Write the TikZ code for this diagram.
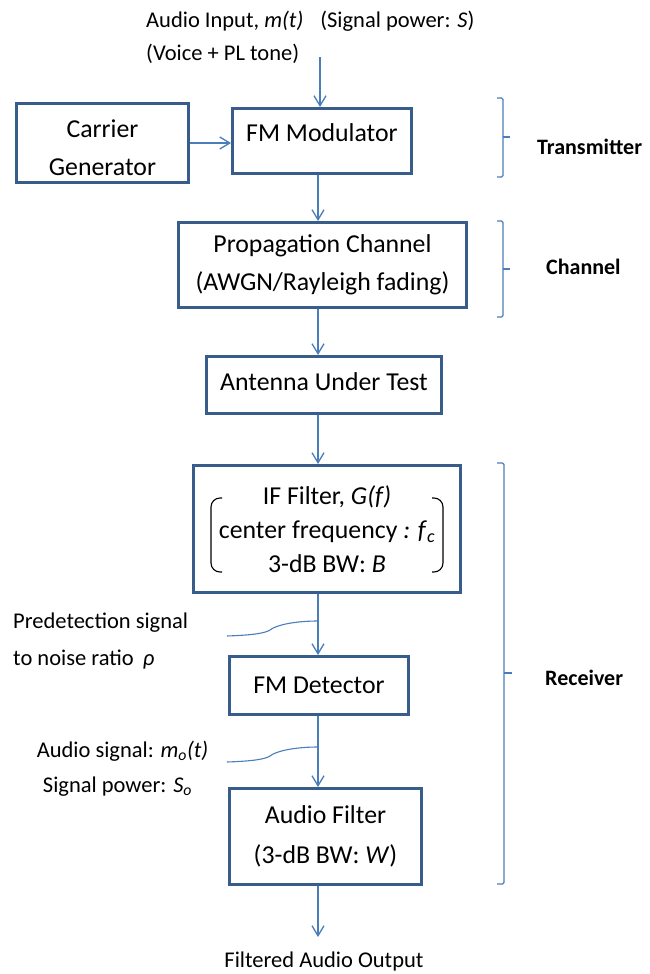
\documentclass[tikz,border=0pt]{standalone}
\usepackage{fontspec}
\setmainfont{Carlito}
\usetikzlibrary{arrows.meta}
\definecolor{boxblue}{RGB}{56,93,138}
\definecolor{linkblue}{RGB}{74,126,187}
\begin{document}
\begin{tikzpicture}[x=1pt,y=-1pt,
  blockbox/.style={draw=boxblue, line width=3pt, inner sep=0pt, align=center, font=\fontsize{25.8}{38}\selectfont},
  arr/.style={draw=linkblue, line width=1.3pt, -{Straight Barb[length=10pt,width=12pt]}},
  brack/.style={draw=linkblue, line width=1.3pt, rounded corners=1.5pt},
  lbl/.style={font=\fontsize{22.5}{27}\selectfont, inner sep=0pt},
  side/.style={font=\fontsize{22}{26}\selectfont\bfseries, inner sep=0pt},
  paren/.style={draw=black, line width=1.1pt, rounded corners=9pt},
  callout/.style={draw=linkblue, line width=1.1pt}]
\useasboundingbox (0,0) rectangle (649,974);

% blocks
\node[blockbox, minimum width=172pt, minimum height=79pt, text height=65pt] (carrier) at (102.5,143) {Carrier\\Generator};
\node[blockbox, minimum width=179pt, minimum height=65pt, text depth=16pt] (mod) at (322,141) {FM Modulator};
\node[blockbox, minimum width=288pt, minimum height=85pt] (chan) at (322.5,265) {Propagation Channel\\(AWGN/Rayleigh fading)};
\node[blockbox, minimum width=235pt, minimum height=57pt, text depth=6pt] (ant) at (324,385) {Antenna Under Test};
\node[blockbox, minimum width=267pt, minimum height=127pt, font=\fontsize{25.8}{34}\selectfont] (iff) at (327,529) {IF Filter, \textit{G(f)}\\center frequency \textit{: f}\textsubscript{\textit{c}}\\3-dB BW: \textit{B}};
\node[blockbox, minimum width=179pt, minimum height=58pt] (det) at (319,685.5) {FM Detector};
\node[blockbox, minimum width=192pt, minimum height=96pt, font=\fontsize{25.8}{40}\selectfont] (afil) at (325.5,836.5) {Audio Filter\\(3-dB BW: \textit{W})};

% parentheses inside IF filter
\draw[paren] (222,498) -- (211,498) -- (211,572) -- (222,572);
\draw[paren] (432,498) -- (443,498) -- (443,572) -- (432,572);

% connectors
\coordinate (sp) at (318,0);
\coordinate (inp) at (320,57);
\coordinate (outp) at (318,937);
\draw[arr] (inp) -- (inp |- mod.north);
\draw[arr] (carrier.east) -- (carrier.east -| mod.west);
\draw[arr] (mod.south -| sp) -- (chan.north -| sp);
\draw[arr] (chan.south -| sp) -- (ant.north -| sp);
\draw[arr] (ant.south -| sp) -- (iff.north -| sp);
\draw[arr] (iff.south -| sp) -- (det.north -| sp);
\draw[arr] (det.south -| sp) -- (afil.north -| sp);
\draw[arr] (afil.south -| sp) -- (outp);

% callouts
\coordinate (c1a) at (227,636);
\coordinate (c1b) at (318,621);
\coordinate (c2a) at (227,762);
\coordinate (c2b) at (318,747);
\draw[callout] (c1a) .. controls (255,635) and (265,633) .. (270,630) .. controls (276,625) and (295,621) .. (c1b);
\draw[callout] (c2a) .. controls (255,761) and (265,759) .. (270,756) .. controls (276,751) and (295,747) .. (c2b);

% brackets
\draw[brack] (497,98) -- (503,98) -- (503,177) -- (497,177);
\draw[brack] (503,137) -- (510,137);
\draw[brack] (497,221) -- (503,221) -- (503,317) -- (497,317);
\draw[brack] (503,269) -- (510,269);
\draw[brack] (497,463) -- (504,463) -- (504,884) -- (497,884);
\draw[brack] (504,673) -- (512,673);

% labels
\node[lbl, anchor=base west] (ain) at (146,28) {Audio Input, \textit{m(t)}\hspace{17pt}(Signal power: \textit{S})};
\node[lbl, anchor=base west] (voice) at (146,60) {(Voice + PL tone)};
\node[lbl, anchor=base west] (pre1) at (13,628) {Predetection signal};
\node[lbl, anchor=base west] (pre2) at (13,665) {to noise ratio\hspace{9pt}\textit{ρ}};
\node[lbl, anchor=base] (aus1) at (122.5,757) {Audio signal: \textit{m}\textsubscript{\textit{o}}\textit{(t)}};
\node[lbl, anchor=base] (aus2) at (117.5,792) {Signal power: \textit{S}\textsubscript{\textit{o}}};
\node[lbl, anchor=base] (outl) at (324,967) {Filtered Audio Output};
\node[side, anchor=base west] (tx) at (537,154) {Transmitter};
\node[side, anchor=base west] (chl) at (546,274) {Channel};
\node[side, anchor=base west] (rx) at (545,685) {Receiver};
\end{tikzpicture}
\end{document}
